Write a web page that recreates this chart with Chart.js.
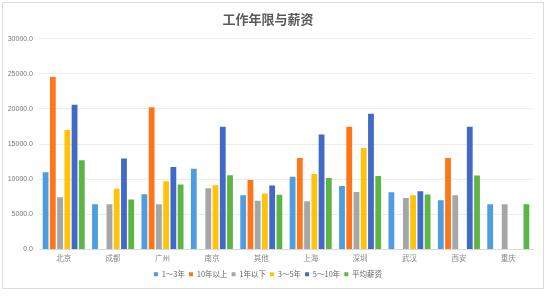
<!DOCTYPE html>
<html>
<head>
<meta charset="utf-8">
<script src="https://cdn.jsdelivr.net/npm/chart.js@4/dist/chart.umd.min.js"></script>
<style>
    html, body { margin: 0; padding: 0; background: #fff; }
    #box {
        position: absolute; left: 2px; top: 2px;
        width: 540px; height: 285px;
        border: 1px solid #dcdcdc;
    }
</style>
</head>
<body>
<div id="box"><canvas id="barChart" width="540" height="285"></canvas></div>
<script>
    const cities = ["北京", "成都", "广州", "南京", "其他", "上海", "深圳", "武汉", "西安", "重庆"];
    const seriesNames = ["1～3年", "10年以上", "1年以下", "3～5年", "5～10年", "平均薪资"];
    const y1to3 = [11000, 6450, 7850, 11500, 7700, 10350, 9050, 8150, 7000, 6450];
    const y10plus = [24550, null, 20250, null, 9900, 13000, 17450, null, 13000, null];
    const yUnder1 = [7450, 6450, 6450, 8700, 6950, 6850, 8170, 7320, 7720, 6450];
    const y3to5 = [17000, 8650, 9700, 9150, 7950, 10750, 14450, 7720, null, null];
    const y5to10 = [20600, 12950, 11750, 17450, 9120, 16350, 19300, 8300, 17450, null];
    const avgPay = [12700, 7100, 9250, 10570, 7800, 10170, 10470, 7830, 10540, 6450];
    const yTicks = [0, 5000, 10000, 15000, 20000, 25000, 30000];

    const colors = ["#4d9de0", "#ff7519", "#a6a6a6", "#ffc30a", "#4169c8", "#5cb545"];
    const allData = [y1to3, y10plus, yUnder1, y3to5, y5to10, avgPay];

    var barChartData = {
        labels: cities,
        datasets: seriesNames.map(function (name, i) {
            return {
                label: name,
                backgroundColor: colors[i],
                borderColor: colors[i],
                data: allData[i],
                barPercentage: 0.8,
                categoryPercentage: 0.88,
            };
        }),
    };

    new Chart(document.getElementById("barChart").getContext("2d"), {
        type: "bar",
        data: barChartData,
        options: {
            responsive: false,
            animation: false,
            layout: { padding: { left: 0, right: 10, top: 0, bottom: 0 } },
            plugins: {
                title: {
                    display: true,
                    text: "工作年限与薪资",
                    color: "#595959",
                    font: { family: "Noto Sans CJK SC", size: 13, weight: "bold" },
                    padding: { top: 8, bottom: 12 },
                },
                legend: {
                    position: "bottom",
                    labels: {
                        boxWidth: 4,
                        boxHeight: 4,
                        padding: 4,
                        color: "#666",
                        font: { family: "Noto Sans CJK SC", size: 7.5 },
                    },
                },
                tooltip: { enabled: false },
            },
            scales: {
                x: {
                    grid: { display: false, drawTicks: false },
                    border: { color: "#d9d9d9" },
                    ticks: { color: "#888", font: { family: "Noto Sans CJK SC", size: 7.5 }, padding: 4 },
                },
                y: {
                    min: 0,
                    max: 30000,
                    afterBuildTicks: function (s) { s.ticks = yTicks.map(function (v) { return { value: v }; }); },
                    afterFit: function (s) { s.width = 36; },
                    grid: { color: "#ececec", drawTicks: false },
                    border: { display: false },
                    ticks: {
                        color: "#777",
                        font: { family: "Liberation Sans", size: 7 },
                        padding: 6,
                        callback: function (v) { return v.toFixed(1); },
                    },
                },
            },
        },
    });
</script>
</body>
</html>
